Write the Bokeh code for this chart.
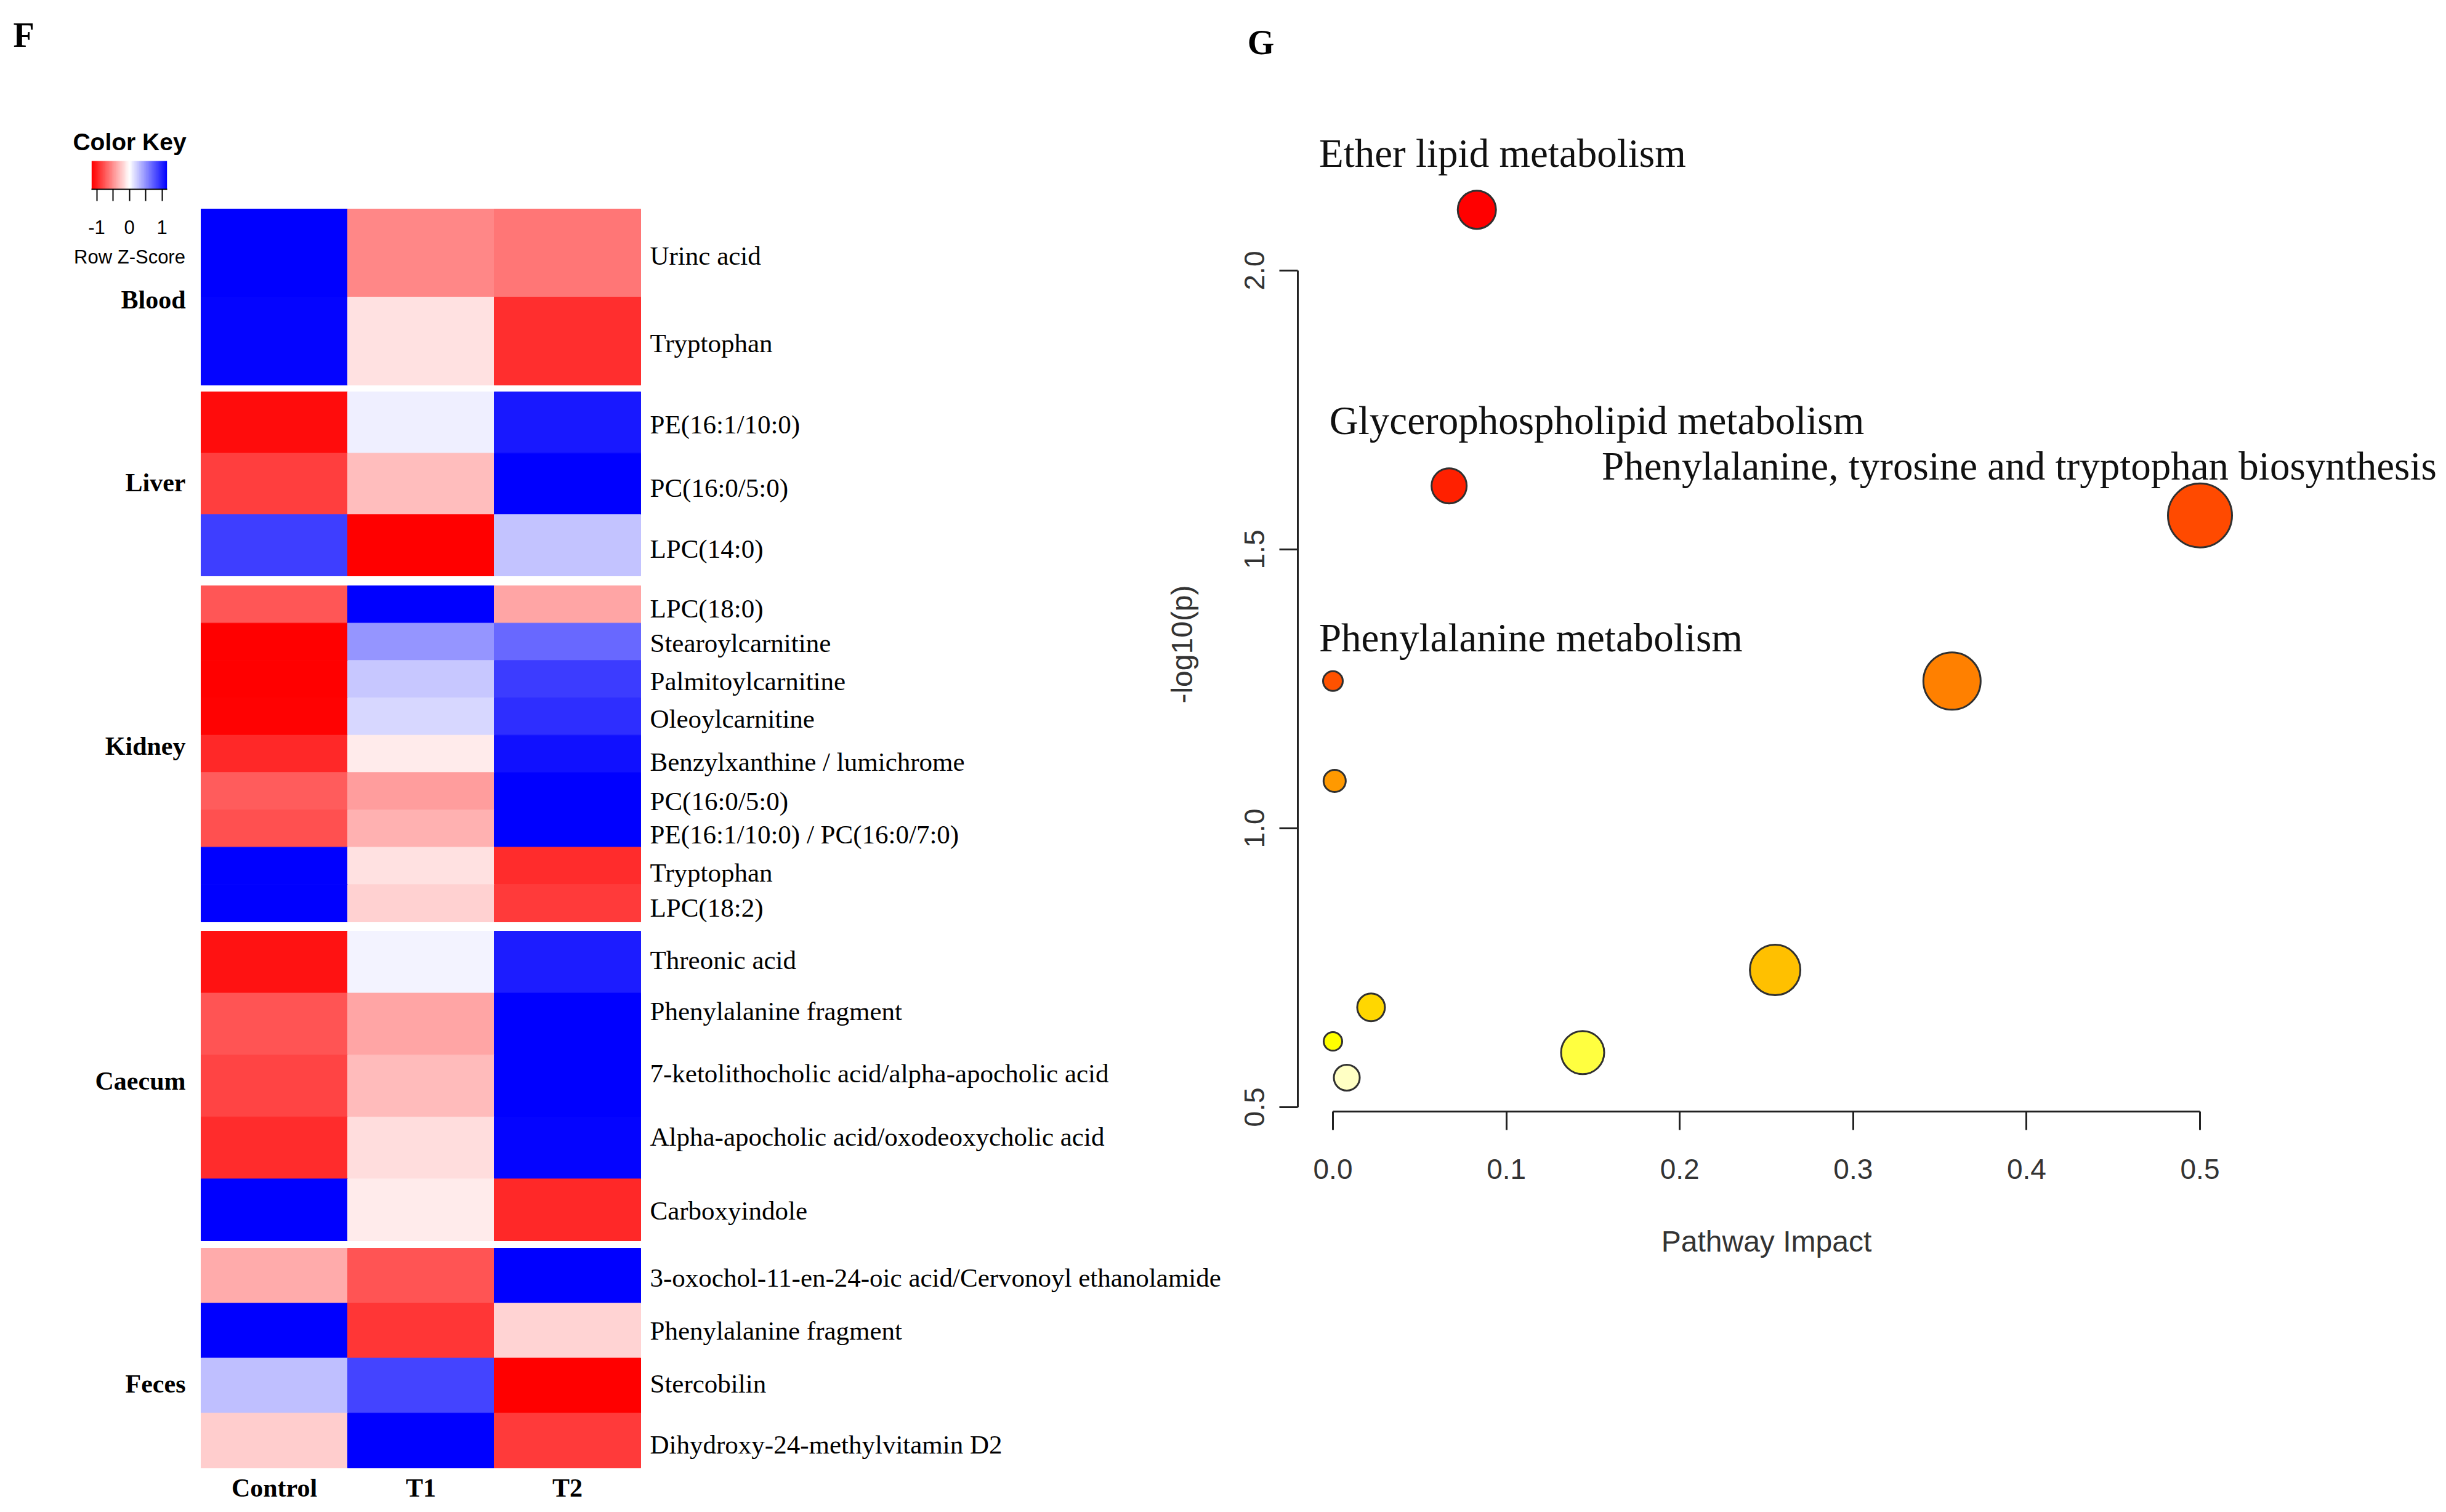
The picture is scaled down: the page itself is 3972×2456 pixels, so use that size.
import numpy as np
from bokeh.plotting import figure
from bokeh.models import (Range1d, LinearAxis, FixedTicker, LinearColorMapper,
                          ColumnDataSource, PrintfTickFormatter)
from bokeh.core.properties import value
from bokeh.embed import file_html
from bokeh.resources import INLINE

# ---------------- data : heatmap (row z-scores) ----------------
groups = ["Blood", "Liver", "Kidney", "Caecum", "Feces"]
conditions = ["Control", "T1", "T2"]
metabolites = [
    "Urinc acid", "Tryptophan",
    "PE(16:1/10:0)", "PC(16:0/5:0)", "LPC(14:0)",
    "LPC(18:0)", "Stearoylcarnitine", "Palmitoylcarnitine", "Oleoylcarnitine",
    "Benzylxanthine / lumichrome", "PC(16:0/5:0)", "PE(16:1/10:0) / PC(16:0/7:0)",
    "Tryptophan", "LPC(18:2)",
    "Threonic acid", "Phenylalanine fragment", "7-ketolithocholic acid/alpha-apocholic acid",
    "Alpha-apocholic acid/oxodeoxycholic acid", "Carboxyindole",
    "3-oxochol-11-en-24-oic acid/Cervonoyl ethanolamide", "Phenylalanine fragment",
    "Stercobilin", "Dihydroxy-24-methylvitamin D2",
]
metabolite_group = (["Blood"] * 2 + ["Liver"] * 3 + ["Kidney"] * 9 +
                    ["Caecum"] * 5 + ["Feces"] * 4)
z_control = [1.15, 1.13, -1.10, -0.87, 0.87, -0.76, -1.15, -1.15, -1.14, -0.97, -0.73,
             -0.79, 1.15, 1.15, -1.07, -0.77, -0.84, -0.95, 1.15, -0.38, 1.15, 0.29, -0.23]
z_t1 = [-0.54, -0.14, 0.07, -0.30, -1.15, 1.15, 0.48, 0.25, 0.18, -0.09, -0.44,
        -0.35, -0.14, -0.21, 0.05, -0.41, -0.31, -0.15, -0.09, -0.77, -0.91, 0.84, 1.15]
z_t2 = [-0.62, -0.94, 1.04, 1.15, 0.27, -0.41, 0.68, 0.88, 0.94, 1.08, 1.15,
        1.15, -0.95, -0.89, 1.02, 1.15, 1.15, 1.13, -0.97, 1.15, -0.20, -1.15, -0.89]

# ---------------- data : pathway analysis ----------------
pathway_impact = [0.083, 0.067, 0.500, 0.357, 0.000, 0.001, 0.255, 0.022, 0.000, 0.144, 0.008]
pathway_logp = [2.109, 1.614, 1.561, 1.264, 1.264, 1.085, 0.746, 0.679, 0.618, 0.598, 0.553]
pathway_colors = ["#FF0000", "#FF2000", "#FF4A00", "#FF8000", "#FF5200", "#FF9900",
                  "#FFC000", "#FFD700", "#FFFF00", "#FFFF40", "#FFFFC4"]
pathway_diam = [62, 57, 104, 93, 32, 36, 82, 45, 30, 70, 42]

label_names = ["Ether lipid metabolism", "Glycerophospholipid metabolism",
               "Phenylalanine, tyrosine and tryptophan biosynthesis", "Phenylalanine metabolism"]
label_x = [-0.008, -0.002, 0.155, -0.008]
label_y = [2.210, 1.731, 1.650, 1.342]

x_ticks = [0.0, 0.1, 0.2, 0.3, 0.4, 0.5]
y_ticks = [0.5, 1.0, 1.5, 2.0]

# ---------------- layout (pixels of the page) ----------------
W, H = 3956, 2448
GROUP_TOP = [339, 636, 951, 1512, 2027]
GROUP_BOTTOM = [625, 935, 1497, 2015, 2384]
GROUP_LABEL_Y = [486, 783, 1211, 1755, 2247]
ROW_LABEL_Y = [415, 557, 689, 792, 891, 988, 1044, 1106, 1167, 1237, 1301, 1355, 1417, 1474,
               1559, 1642, 1743, 1846, 1966, 2075, 2161, 2247, 2346]
HM_LEFT, HM_COLW = 326, 238

SX0, SXU = 2164, 2816.0
SY05, SYU = 1798, 906.0
x_start = -SX0 / SXU
x_end = (W - SX0) / SXU
y_start = 0.5 - (H - SY05) / SYU
y_end = 0.5 + SY05 / SYU

p = figure(width=W, height=H, x_range=Range1d(x_start, x_end), y_range=Range1d(y_start, y_end),
           output_backend="svg", toolbar_location=None, min_border=0,
           x_axis_location=None, y_axis_location=None, outline_line_color=None,
           background_fill_color="white", border_fill_color="white")
p.grid.visible = False

p.extra_x_ranges = {
    "hx": Range1d(-HM_LEFT / HM_COLW, (W - HM_LEFT) / HM_COLW),
    "px": Range1d(0, W),
    "kx": Range1d(-209.5 / 53.0, (W - 209.5) / 53.0),
}
p.extra_y_ranges = {"hy": Range1d(H, 0)}

# ---------------- heatmap ----------------
zmax = 2 / np.sqrt(3)
pal = []
n = 255
for i in range(n):
    t = i / (n - 1)
    if t <= 0.5:
        s = t / 0.5
        r, g, b = 255, int(round(255 * s)), int(round(255 * s))
    else:
        s = (1 - t) / 0.5
        r, g, b = int(round(255 * s)), int(round(255 * s)), 255
    pal.append("#%02x%02x%02x" % (r, g, b))
mapper = LinearColorMapper(palette=pal, low=-zmax, high=zmax)

cell = dict(left=[], right=[], top=[], bottom=[], z=[])
zcols = [z_control, z_t1, z_t2]
for gi, g in enumerate(groups):
    idx = [i for i, m in enumerate(metabolite_group) if m == g]
    top = GROUP_TOP[gi]
    bot = GROUP_BOTTOM[gi]
    h = (bot - top) / len(idx)
    for k, i in enumerate(idx):
        t = top + k * h
        for c in range(3):
            cell["left"].append(c)
            cell["right"].append(c + 1)
            cell["top"].append(t)
            cell["bottom"].append(t + h)
            cell["z"].append(zcols[c][i])

p.quad(left="left", right="right", top="top", bottom="bottom", source=ColumnDataSource(cell),
       fill_color={"field": "z", "transform": mapper},
       line_color={"field": "z", "transform": mapper}, line_width=1,
       x_range_name="hx", y_range_name="hy")

serif = value("Liberation Serif")
sans = value("Liberation Sans")

p.text(x=[1055] * len(metabolites), y=ROW_LABEL_Y, text=metabolites,
       x_range_name="px", y_range_name="hy", text_font=serif, text_font_size=value("43px"),
       text_align="left", text_baseline="middle", text_color="black")
p.text(x=[301] * len(groups), y=GROUP_LABEL_Y, text=groups,
       x_range_name="px", y_range_name="hy", text_font=serif, text_font_size=value("42px"),
       text_font_style="bold", text_align="right", text_baseline="middle", text_color="black")
p.text(x=[0.5, 1.5, 2.5], y=[2416] * 3, text=conditions,
       x_range_name="hx", y_range_name="hy", text_font=serif, text_font_size=value("42px"),
       text_font_style="bold", text_align="center", text_baseline="middle", text_color="black")

# colour key
grad = np.linspace(-zmax, zmax, 256).reshape(1, -1)
p.image(image=[grad], x=-zmax, y=261, dw=2 * zmax, dh=46, color_mapper=mapper,
        x_range_name="kx", y_range_name="hy")
key_axis = LinearAxis(x_range_name="kx", y_range_name="hy", fixed_location=307,
                      ticker=FixedTicker(ticks=[-1, -0.5, 0, 0.5, 1]),
                      major_label_overrides={-1: "-1", -0.5: "", 0: "0", 0.5: "", 1: "1"},
                      bounds=(-zmax, zmax), major_tick_out=19, major_tick_in=0,
                      minor_tick_out=0, minor_tick_in=0, major_label_standoff=31,
                      axis_line_color="black", axis_line_width=2,
                      major_tick_line_color="black", major_tick_line_width=2,
                      major_label_text_font="Liberation Sans", major_label_text_font_size="31px",
                      major_label_text_color="black")
p.add_layout(key_axis, "below")
p.text(x=[210, 210], y=[230, 417], text=["Color Key", "Row Z-Score"],
       x_range_name="px", y_range_name="hy", text_font=sans,
       text_font_size=["39px", "31px"], text_font_style=["bold", "normal"],
       text_align="center", text_baseline="middle", text_color="black")

p.text(x=[38, 2047], y=[56, 68], text=["F", "G"],
       x_range_name="px", y_range_name="hy", text_font=serif, text_font_size=value("56px"),
       text_font_style="bold", text_align="center", text_baseline="middle", text_color="black")

# ---------------- pathway scatter ----------------
p.scatter(x=pathway_impact, y=pathway_logp, size=pathway_diam, fill_color=pathway_colors,
          line_color="#303030", line_width=3)
p.text(x=label_x, y=label_y, text=label_names, text_font=serif, text_font_size=value("65px"),
       text_align="left", text_baseline="middle", text_color="#111111")

x_axis_loc = 0.5 - (1805 - 1798) / SYU
y_axis_loc = -(2164 - 2107) / SXU
ax_x = LinearAxis(fixed_location=x_axis_loc, bounds=(0, 0.5), ticker=FixedTicker(ticks=x_ticks),
                  formatter=PrintfTickFormatter(format="%.1f"), axis_label="Pathway Impact")
ax_y = LinearAxis(fixed_location=y_axis_loc, bounds=(0.5, 2.0), ticker=FixedTicker(ticks=y_ticks),
                  formatter=PrintfTickFormatter(format="%.1f"),
                  major_label_orientation="vertical")
# the y title is centred on the whole plotting region (0.44 .. 2.22), not on the tick span
ax_y_title = LinearAxis(fixed_location=y_axis_loc, bounds=(0.44, 2.22),
                        ticker=FixedTicker(ticks=[]), axis_label="-log10(p)",
                        axis_line_color=None, major_tick_out=0, major_tick_in=0,
                        minor_tick_out=0, minor_tick_in=0, axis_label_standoff=162)
for ax in (ax_x, ax_y, ax_y_title):
    ax.major_tick_in = 0
    ax.minor_tick_out = 0
    ax.minor_tick_in = 0
    ax.major_label_text_font = "Liberation Sans"
    ax.major_label_text_font_size = "46px"
    ax.major_label_text_color = "#333333"
    ax.axis_label_text_font = "Liberation Sans"
    ax.axis_label_text_font_size = "48px"
    ax.axis_label_text_font_style = "normal"
    ax.axis_label_text_color = "#333333"
for ax in (ax_x, ax_y):
    ax.major_tick_out = 30
    ax.axis_line_color = "#222222"
    ax.axis_line_width = 3
    ax.major_tick_line_color = "#222222"
    ax.major_tick_line_width = 3
ax_x.major_label_standoff = 47
ax_x.axis_label_standoff = 72
ax_y.major_label_standoff = 25
p.add_layout(ax_x, "below")
p.add_layout(ax_y, "left")
p.add_layout(ax_y_title, "left")

open("out.html", "w").write(file_html(p, INLINE))
